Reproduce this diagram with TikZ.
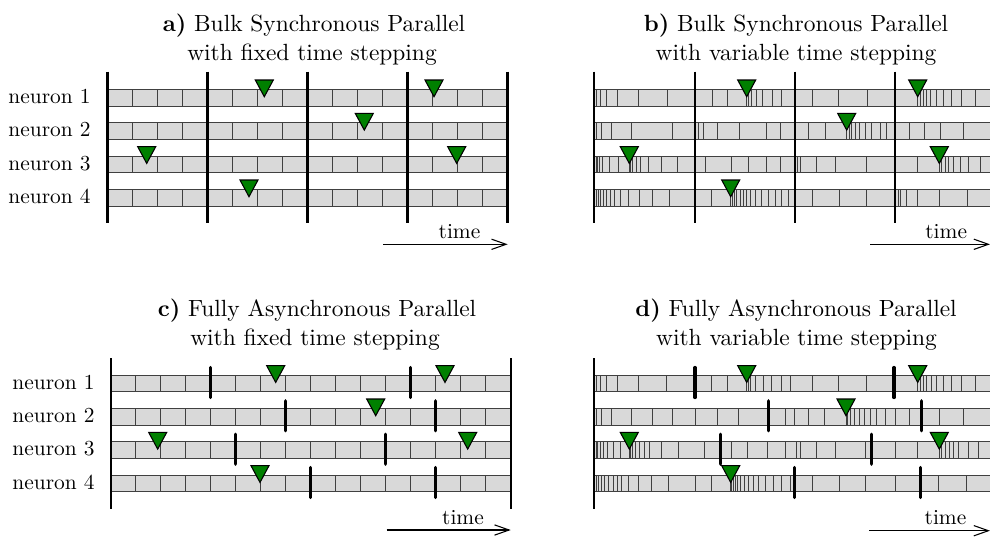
\documentclass[tikz,border=0pt]{standalone}
\usetikzlibrary{arrows.meta}
\tikzset{
  cellrow/.style={fill=black!15, draw=black!75, line width=0.45pt},
  celltick/.style={draw=black!75, line width=0.45pt},
  syncline/.style={draw=black, line width=1pt},
  commmark/.style={draw=black, line width=1.5pt, line cap=round},
  spike/.style={fill=green!50!black, draw=black, line width=0.5pt},
  lbl/.style={anchor=base east, inner sep=0pt},
  ttl/.style={anchor=base, inner sep=0pt, font=\fontsize{10.95}{13.6}\selectfont},
  timelbl/.style={anchor=base, inner sep=0pt},
  timearrow/.style={-{Straight Barb[length=6.8pt,width=4.8pt,line width=0.5pt]}, line width=0.5pt},
}
\newcommand\FixRow[2]{% #1 x0, #2 top
  \path[cellrow] (#1,#2) rectangle (#1+400,#2+16.7);
  \foreach \kk in {1,...,15} \draw[celltick] ({#1+25*\kk},#2) -- ++(0,16.7);
}
\newcommand\VarRow[4]{% #1 x0, #2 x1, #3 top, #4 list
  \path[cellrow] (#1,#3) rectangle (#2,#3+16.7);
  \foreach \xx in {#4} \draw[celltick] (\xx,#3) -- ++(0,16.7);
}
\newcommand\Spike[2]{% #1 tip x, #2 row top
  \draw[spike] (#1-9,#2-9.3) -- (#1+9,#2-9.3) -- (#1,#2+7.4) -- cycle;
}
\begin{document}
\begin{tikzpicture}[x=0.4673pt, y=-0.4673pt]
\useasboundingbox (0,0) rectangle (990,538);

% ---------------- titles
\node[ttl] (ta1) at (314,31.7) {\textbf{a)} Bulk Synchronous Parallel};
\node[ttl] (ta2) at (312,60) {with fixed time stepping};
\node[ttl] (tb1) at (796,31.7) {\textbf{b)} Bulk Synchronous Parallel};
\node[ttl] (tb2) at (796,60) {with variable time stepping};
\node[ttl] (tc1) at (317,316.7) {\textbf{c)} Fully Asynchronous Parallel};
\node[ttl] (tc2) at (315,345) {with fixed time stepping};
\node[ttl] (td1) at (796,316.7) {\textbf{d)} Fully Asynchronous Parallel};
\node[ttl] (td2) at (796.5,345) {with variable time stepping};

% ---------------- panel a
\foreach \t [count=\r] in {89.3,122.7,156,189.3} {
  \FixRow{107.5}{\t}
  \node[lbl] (na\r) at (91,\t+14) {neuron \r};
}
\foreach \s in {107.5,207.5,307.5,407.5,507.5}
  \draw[syncline] (\s,71.7) -- (\s,222.7);
\Spike{264.3}{89.3}\Spike{434}{89.3}\Spike{364.3}{122.7}
\Spike{146.7}{156}\Spike{456.7}{156}\Spike{249}{189.3}
\coordinate (aa0) at (383,244.3);
\coordinate (aa1) at (507.7,244.3);
\draw[timearrow] (aa0) -- (aa1);
\node[timelbl] (tla) at (459.5,238.3) {time};

% ---------------- panel b
\VarRow{594.3}{990}{89.3}{596,600,606.7,617.3,638.7,667.3,712.7,727.3,746.7,748.3,751.7,756.7,762.7,772.7,781.7,812.7,838.7,867.3,917.7,920,923.3,926.7,930.7,936,943.3,951.7,961.7,975}
\VarRow{594.3}{990}{122.7}{596,601.7,611.7,631.7,672.3,698,703,717.3,739,766.7,780,808.3,825,846.7,849,851.7,855,859.3,865,871.7,880,886.7,909.3,924,940.7,963.3}
\VarRow{594.3}{990}{156}{596,597.3,599.3,602.7,609.3,618.3,629.3,630.7,632.7,636,640.7,648.3,661,677.7,705,731.7,748.3,766.7,780,797.3,800.7,816,835,866,917.3,939.3,941.7,945,948.3,953.3,960,968.3,980}
\VarRow{594.3}{990}{189.3}{596,598.3,600.7,603.3,606.7,610.7,614.3,620,628.7,639.3,652.7,669,711.7,730.7,732.7,734.3,736.7,740,743.3,746.7,750.7,755.7,761.7,768.3,775,781.7,788,812.7,839.3,866,898.3,900.7,906.7,917.3,939,967.3}
\foreach \s in {594.3,695,795,895}
  \draw[syncline] (\s,71.7) -- (\s,222.7);
\Spike{746.7}{89.3}\Spike{917.7}{89.3}\Spike{846.7}{122.7}
\Spike{629.3}{156}\Spike{939.3}{156}\Spike{730.7}{189.3}
\coordinate (ba0) at (870,244.3);
\coordinate (ba1) at (990,244.3);
\draw[timearrow] (ba0) -- (ba1);
\node[timelbl] (tlb) at (946.2,238.3) {time};

% ---------------- panel c
\foreach \t [count=\r] in {375,408.3,441.7,475} {
  \FixRow{110.7}{\t}
  \node[lbl] (nc\r) at (95,\t+14) {neuron \r};
}
\draw[syncline] (110.7,358.3) -- (110.7,509.3);
\draw[syncline] (510.7,358.3) -- (510.7,509.3);
\foreach \x/\t in {210.7/375,410.7/375,285.7/408.3,435.7/408.3,235.7/441.7,385.7/441.7,310.7/475,435.7/475}
  \draw[commmark] (\x,\t-7.5) -- (\x,\t+22.5);
\Spike{275.7}{375}\Spike{445}{375}\Spike{375.7}{408.3}
\Spike{157.7}{441.7}\Spike{467.7}{441.7}\Spike{260}{475}
\coordinate (ca0) at (386.7,530);
\coordinate (ca1) at (510.7,530);
\draw[timearrow] (ca0) -- (ca1);
\node[timelbl] (tlc) at (463,524.5) {time};

% ---------------- panel d
\VarRow{594}{990}{375}{596,600,606.7,617.3,638.3,666.7,711.7,727.7,746.7,748.3,750.7,755,763.3,771.7,781.7,790,812.7,838.3,866.7,917.7,920,923.3,926.7,931.7,936.7,943.3,951.7,961.7,975}
\VarRow{594}{990}{408.3}{596,601,611.7,631.7,652,672.3,695,717.3,738.3,785,794.3,808.3,824.3,846,847.7,850.7,854.3,859,864.3,870,876.7,885,895,909,939,963.3}
\VarRow{594}{990}{441.7}{596,597.7,600,603.3,607.7,613.3,620,629.3,630.7,632.3,635,639,644.3,649,661,678.3,704.3,731.7,747.7,767.3,785,796,800,816,835,865,895,917.7,939.3,941.7,945,949,953.3,958.3,968.3,978.3}
\VarRow{594}{990}{475}{596,598.3,601,604.3,608.3,613.3,617.3,621.7,628.3,638.3,651.7,668.3,695,711.7,730.7,731.7,733.3,735,737.7,740.7,744.3,748.3,753.3,758.3,765,773.3,781.7,790,812.7,839,865,895,938.3,966.7}
\draw[syncline] (594,358.3) -- (594,509.3);
\foreach \x/\t in {695/375,894/375,768.3/408.3,921.3/408.3,720.3/441.7,871.7/441.7,794.3/475,920.3/475}
  \draw[commmark] (\x,\t-7.5) -- (\x,\t+22.5);
\Spike{746.7}{375}\Spike{917.7}{375}\Spike{846}{408.3}
\Spike{629.3}{441.7}\Spike{939.3}{441.7}\Spike{730.7}{475}
\coordinate (da0) at (869.3,530.7);
\coordinate (da1) at (990,530.7);
\draw[timearrow] (da0) -- (da1);
\node[timelbl] (tld) at (945.5,524.3) {time};
\end{tikzpicture}
\end{document}
